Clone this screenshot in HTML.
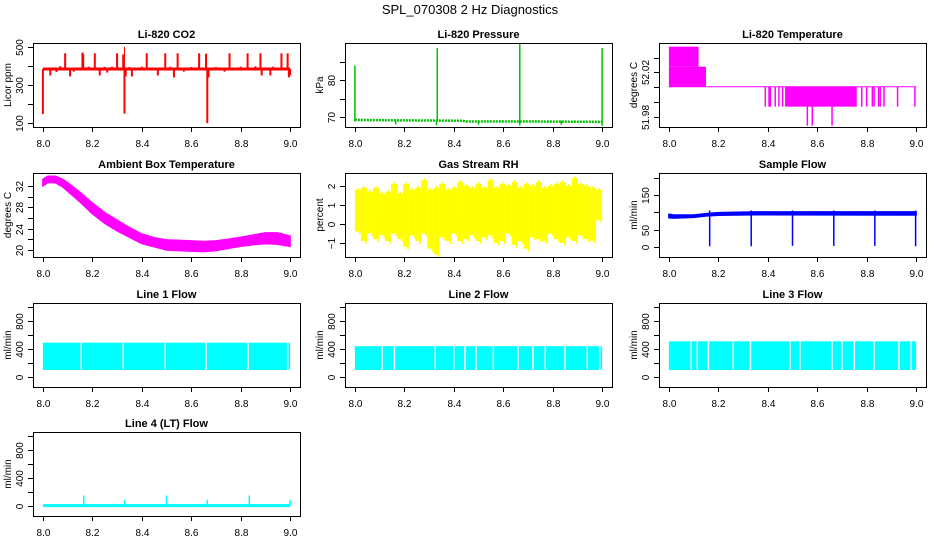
<!DOCTYPE html>
<html><head><meta charset="utf-8"><style>
html,body{margin:0;padding:0;background:#fff;}
svg{display:block;font-family:"Liberation Sans",Arial,sans-serif;}
</style></head><body>
<svg id="c" width="936" height="540" viewBox="0 0 936 540">
<text x="470" y="14" text-anchor="middle" font-size="13">SPL_070308  2 Hz Diagnostics</text>
</svg>
<script>
// ---------- data ----------
const xTicks = [8.0, 8.2, 8.4, 8.6, 8.8, 9.0];
const xTickLabels = ["8.0", "8.2", "8.4", "8.6", "8.8", "9.0"];

// CO2
const co2Base = 384;
const co2UpX = [8.09, 8.16, 8.163, 8.21, 8.30, 8.325, 8.42, 8.495, 8.545, 8.632, 8.66, 8.755, 8.828, 8.88, 8.965, 8.99];
const co2UpV = [466, 470, 462, 466, 466, 460, 466, 466, 466, 466, 464, 466, 466, 466, 466, 466];
const co2DownX = [8.0, 8.03, 8.055, 8.11, 8.125, 8.23, 8.26, 8.33, 8.335, 8.36, 8.465, 8.53, 8.57, 8.665, 8.67, 8.735, 8.885, 8.92, 8.995, 9.0];
const co2DownV = [148, 350, 368, 345, 370, 350, 365, 150, 345, 345, 350, 340, 370, 100, 340, 370, 350, 350, 340, 350];
const co2SmallX = [8.07, 8.185, 8.25, 8.28, 8.35, 8.40, 8.515, 8.60, 8.70, 8.80, 8.86, 8.93];
const co2SmallV = [398, 396, 395, 396, 394, 396, 396, 394, 394, 396, 398, 396];

// Pressure
const presBaseX = [8.0, 8.02, 8.2, 8.43, 8.45, 8.67, 9.0];
const presBaseV = [69.3, 69.2, 69.1, 69.0, 68.8, 68.8, 68.7];
const presSpikeX = [8.0, 8.333, 8.667, 9.0];
const presSpikeV = [84, 88.7, 89.8, 88.7];
const presDipX = [8.165, 8.33, 8.5, 8.667, 8.835, 9.0];
const presDipV = [68.0, 67.8, 67.9, 67.7, 67.9, 67.6];

// Li-820 temperature levels
const tLevels = [52.0425, 52.0247, 52.0069, 51.9892, 51.9723];
const tBlocksX0 = [8.0, 8.0, 8.47];
const tBlocksX1 = [8.12, 8.15, 8.76];
const tBlocksTop = [0, 1, 2];
const tBlocksBot = [1, 2, 3];
const tSpikeX = [8.39, 8.405, 8.41, 8.43, 8.445, 8.46, 8.78, 8.80, 8.823, 8.83, 8.848, 8.855, 8.87, 8.925, 8.995];
const tDeepX = [8.56, 8.58, 8.66];

// Ambient box temperature (band)
const ambX = [8.0, 8.02, 8.05, 8.08, 8.1, 8.15, 8.2, 8.25, 8.3, 8.35, 8.4, 8.45, 8.5, 8.55, 8.6, 8.65, 8.7, 8.75, 8.8, 8.85, 8.9, 8.95, 9.0];
const ambHi = [33.2, 33.8, 33.8, 33.2, 32.6, 30.8, 28.8, 27.0, 25.6, 24.2, 23.0, 22.3, 21.9, 21.8, 21.7, 21.6, 21.7, 22.0, 22.4, 22.8, 23.2, 23.2, 22.6];
const ambLo = [32.0, 32.6, 32.6, 31.8, 31.0, 29.0, 26.8, 25.0, 23.6, 22.4, 21.2, 20.6, 20.0, 19.9, 19.8, 19.7, 19.9, 20.3, 20.7, 21.0, 21.2, 21.1, 20.7];

// Gas stream RH (per-sample envelope)
const rhHi = [1.8,1.9,1.7,1.9,1.6,1.7,2.1,1.6,2.1,1.8,1.9,2.3,1.8,1.9,2.1,1.8,1.9,2.2,2.0,1.9,2.1,1.9,2.3,1.9,2.1,2.0,2.2,1.9,2.1,2.0,2.2,1.9,2.0,2.1,2.2,2.0,2.4,2.1,2.0,1.9,1.8];
const rhLo = [-0.4,-0.9,-0.5,-0.8,-0.6,-0.9,-0.5,-0.8,-1.2,-0.6,-0.9,-0.5,-1.3,-1.6,-0.7,-0.9,-0.5,-0.9,-0.8,-0.6,-0.9,-0.7,-0.6,-1.0,-0.9,-0.5,-1.1,-0.9,-1.3,-0.7,-0.8,-0.9,-0.5,-0.8,-1.0,-0.7,-0.9,-0.6,-0.8,-0.9,0.2];

// Sample flow
const sfX = [8.0, 8.02, 8.1, 8.15, 8.2, 8.35, 9.0];
const sfHi = [94, 92, 92, 96, 99, 101, 101];
const sfLo = [84, 83, 85, 89, 91, 93, 92];
const sfDipX = [8.165, 8.333, 8.5, 8.667, 8.833, 8.998];
const sfDipV = [2, 2, 3, 3, 3, 2];

// Line flows
const l1Top = 490, l1Bot = 100;
const l1Gaps = [8.155, 8.325, 8.495, 8.66, 8.83, 8.99];
const l2Top = 440, l2Bot = 100;
const l2Gaps = [8.11, 8.16, 8.325, 8.4, 8.445, 8.49, 8.56, 8.66, 8.72, 8.77, 8.85, 8.94, 8.99];
const l3Top = 510, l3Bot = 100;
const l3Gaps = [8.09, 8.115, 8.16, 8.26, 8.33, 8.49, 8.53, 8.66, 8.7, 8.75, 8.83, 8.93, 8.98];
const l4Base = 5;
const l4SpikeX = [8.165, 8.33, 8.5, 8.665, 8.835, 9.0];
const l4SpikeV = [150, 90, 150, 90, 150, 90];

// ---------- layout ----------
const svg = document.getElementById('c');
const NS = 'http://www.w3.org/2000/svg';
const colL = [33, 345, 659], colW = 267;
const rowT = [43, 173, 303, 432], rowH = 84;
const XLIM = [7.96, 9.04];

function mk(tag, attrs, parent) {
  const e = document.createElementNS(NS, tag);
  for (const k in attrs) e.setAttribute(k, attrs[k]);
  (parent || svg).appendChild(e);
  return e;
}

function panel(name, col, row, ylim, yTicks, yLabels, title, ylab) {
  const L = colL[col], T = rowT[row];
  const g = mk('g', {});
  
  
  const sx = v => L + (v - XLIM[0]) / (XLIM[1] - XLIM[0]) * colW;
  const sy = v => T + rowH - (v - ylim[0]) / (ylim[1] - ylim[0]) * rowH;
  const plot = mk('g', {}, g);
  
  
  const ax = mk('g', {stroke: '#000', 'stroke-width': 1, fill: 'none'}, g);
  
  
  mk('rect', {x: L + 0.5, y: T + 0.5, width: colW, height: rowH}, ax);
  xTicks.forEach((v, i) => {
    const x = Math.round(sx(v)) + 0.5;
    mk('line', {x1: x, x2: x, y1: T + rowH, y2: T + rowH + 5}, ax);
    const t = mk('text', {x: x, y: T + rowH + 20, 'text-anchor': 'middle', 'font-size': 10, fill: '#000', stroke: 'none'}, g);
    t.textContent = xTickLabels[i];
    
    
  });
  yTicks.forEach((v, i) => {
    const y = Math.round(sy(v)) + 0.5;
    mk('line', {x1: L - 5, x2: L, y1: y, y2: y}, ax);
    if (yLabels[i]) {
      const t = mk('text', {x: 0, y: 0, transform: `translate(${L - 10},${y}) rotate(-90)`, 'text-anchor': 'middle', 'font-size': 10, fill: '#000'}, g);
      t.textContent = yLabels[i];
      
      
    }
  });
  const tt = mk('text', {x: L + colW / 2, y: T - 5, 'text-anchor': 'middle', 'font-size': 11, 'font-weight': 'bold'}, g);
  tt.textContent = title;
  
  
  const yl = mk('text', {x: 0, y: 0, transform: `translate(${L - 22},${T + rowH / 2}) rotate(-90)`, 'text-anchor': 'middle', 'font-size': 10}, g);
  yl.textContent = ylab;
  
  
  svg.appendChild(ax);
  return {sx, sy, plot};
}
function vline(p, x, v0, v1, color, w) {
  const e = mk('line', {x1: p.sx(x), x2: p.sx(x), y1: p.sy(v0), y2: p.sy(v1), stroke: color, 'stroke-width': w || 1}, p.plot);
  
  
}
function band(p, xs, hi, lo, color) {
  let d = xs.map((x, i) => (i ? 'L' : 'M') + p.sx(x).toFixed(1) + ',' + p.sy(hi[i]).toFixed(1)).join('');
  for (let i = xs.length - 1; i >= 0; i--) d += 'L' + p.sx(xs[i]).toFixed(1) + ',' + p.sy(lo[i]).toFixed(1);
  const e = mk('path', {d: d + 'Z', fill: color, stroke: color, 'stroke-width': 1.5}, p.plot);
  
  
}
function rectV(p, x0, x1, v0, v1, color) {
  const e = mk('rect', {x: p.sx(x0), y: p.sy(v0), width: p.sx(x1) - p.sx(x0), height: p.sy(v1) - p.sy(v0), fill: color}, p.plot);
  
  
}

// CO2
let p = panel('co2', 0, 0, [80, 520], [100, 200, 300, 400, 500], ['100', '', '300', '', '500'], 'Li-820 CO2', 'Licor ppm');
mk('line', {x1: p.sx(8.0), x2: p.sx(9.0), y1: p.sy(co2Base), y2: p.sy(co2Base), stroke: '#f00', 'stroke-width': 3}, p.plot);
co2UpX.forEach((x, i) => vline(p, x, co2Base, co2UpV[i], '#f00', 2));
co2DownX.forEach((x, i) => vline(p, x, co2Base, co2DownV[i], '#f00', 2));
co2SmallX.forEach((x, i) => vline(p, x, co2Base, co2SmallV[i], '#f00', 2));
vline(p, 8.33, 384, 500, '#f00', 1);

// Pressure
p = panel('pressure', 1, 0, [67.3, 90.1], [70, 75, 80, 85], ['70', '', '80', ''], 'Li-820 Pressure', 'kPa');
mk('path', {d: presBaseX.map((x, i) => (i ? 'L' : 'M') + p.sx(x) + ',' + p.sy(presBaseV[i])).join(''), stroke: '#00c000', 'stroke-width': 2.5, fill: 'none', 'stroke-dasharray': '2 1'}, p.plot);
presSpikeX.forEach((x, i) => vline(p, x, presBaseV[0] - 0.5, presSpikeV[i], '#00c000', 1.5));
presDipX.forEach((x, i) => vline(p, x, 69, presDipV[i], '#00c000', 1.5));

// Li-820 temperature
p = panel('li820-temp', 2, 0, [51.9711, 52.0458], [51.98, 51.9933, 52.0067, 52.02, 52.0325], ['51.98', '', '', '52.02', ''], 'Li-820 Temperature', 'degrees C');
tBlocksX0.forEach((x, i) => rectV(p, x, tBlocksX1[i], tLevels[tBlocksTop[i]], tLevels[tBlocksBot[i]], '#f0f'));
mk('line', {x1: p.sx(8.0), x2: p.sx(9.0), y1: p.sy(tLevels[2]), y2: p.sy(tLevels[2]), stroke: '#f0f', 'stroke-width': 1}, p.plot);
tSpikeX.forEach(x => vline(p, x, tLevels[2], tLevels[3], '#f0f', 1.5));
tDeepX.forEach(x => vline(p, x, tLevels[2], tLevels[4], '#f0f', 1.5));

// Ambient
p = panel('ambient-temp', 0, 1, [18.7, 34.4], [20, 22, 24, 26, 28, 30, 32], ['20', '', '24', '', '28', '', '32'], 'Ambient Box Temperature', 'degrees C');
band(p, ambX, ambHi, ambLo, '#f0f');

// RH
p = panel('gas-rh', 1, 1, [-1.74, 2.68], [-1, 0, 1, 2], ['\u22121', '0', '1', '2'], 'Gas Stream RH', 'percent');
rhHi.forEach((v, i) => {
  const x0 = 8 + i / rhHi.length, x1 = 8 + (i + 1) / rhHi.length;
  rectV(p, x0, x1, v, rhLo[i], '#ff0');
});
rhHi.forEach((v, i) => {
  const xm = 8 + (i + 0.5) / rhHi.length;
  vline(p, xm, 0.5, v + 0.1, '#ff0', 1.5);
  vline(p, xm + 0.008, 0.5, rhLo[i] - 0.15, '#ff0', 1.5);
});

// Sample flow
p = panel('sample-flow', 2, 1, [-29, 213], [0, 50, 100, 150, 200], ['0', '50', '', '150', ''], 'Sample Flow', 'ml/min');
band(p, sfX, sfHi, sfLo, '#00f');
sfDipX.forEach((x, i) => vline(p, x, 105, sfDipV[i], '#00f', 1.5));

function lineFlow(name, col, row, title, top, bot, gaps) {
  const q = panel(name, col, row, [-143, 1057], [0, 200, 400, 600, 800, 1000], ['0', '', '400', '', '800', ''], title, 'ml/min');
  rectV(q, 8.0, 9.0, top, bot, '#0ff');
  gaps.forEach(x => vline(q, x, top + 5, bot - 5, '#fff', 1.5));
  return q;
}
lineFlow('line1-flow', 0, 2, 'Line 1 Flow', l1Top, l1Bot, l1Gaps);
lineFlow('line2-flow', 1, 2, 'Line 2 Flow', l2Top, l2Bot, l2Gaps);
lineFlow('line3-flow', 2, 2, 'Line 3 Flow', l3Top, l3Bot, l3Gaps);
p = panel('line4-flow', 0, 3, [-143, 1057], [0, 200, 400, 600, 800, 1000], ['0', '', '400', '', '800', ''], 'Line 4 (LT) Flow', 'ml/min');
mk('line', {x1: p.sx(8.0), x2: p.sx(9.0), y1: p.sy(l4Base), y2: p.sy(l4Base), stroke: '#0ff', 'stroke-width': 3}, p.plot);
l4SpikeX.forEach((x, i) => vline(p, x, l4Base, l4SpikeV[i], '#0ff', 1.5));
</script>
</body></html>
